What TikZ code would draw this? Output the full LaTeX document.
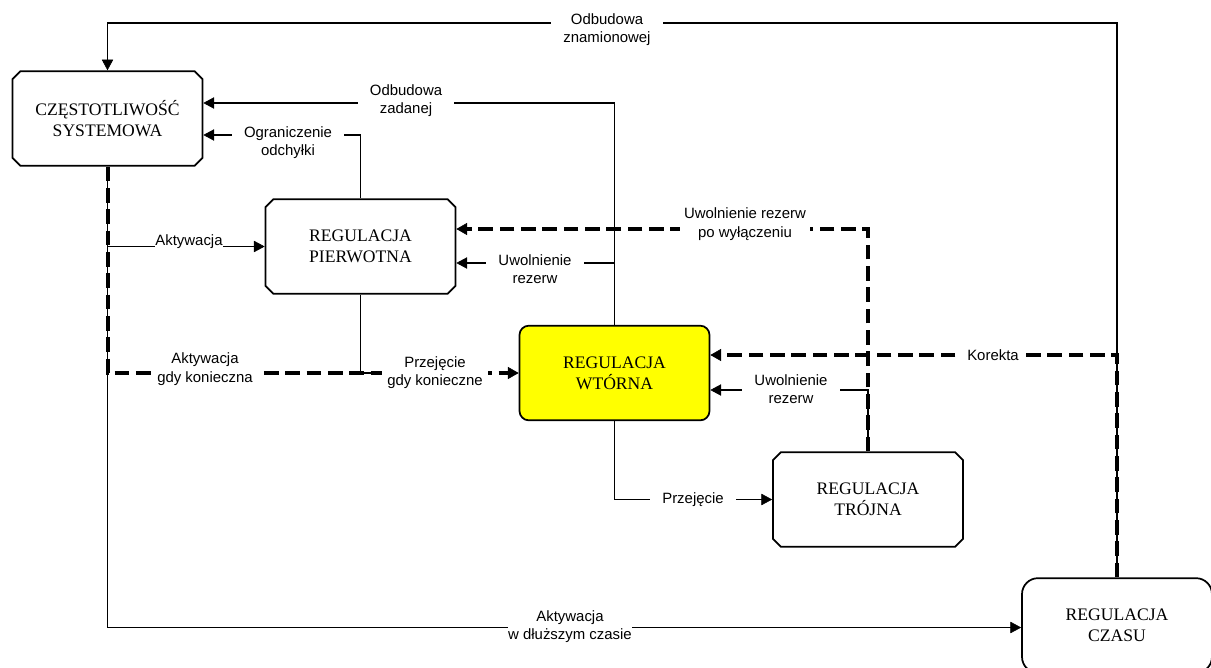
\documentclass[tikz,border=0pt]{standalone}
\usepackage{fontspec}
\setmainfont{Liberation Serif}
\setsansfont{Liberation Sans}
\usepackage{xcolor}
\usetikzlibrary{arrows.meta}
\usetikzlibrary{calc}
\usetikzlibrary{shapes.misc}
\definecolor{wtoryellow}{RGB}{255,255,0}
\tikzset{
	block/.style={
			draw,
			line width=1.3pt,
			minimum width=142.5pt,
			minimum height=71pt,
			align=center,
			font=\fontsize{13.2}{16}\selectfont
		},
	blockc/.style={block, chamfered rectangle,
			chamfered rectangle xsep=3pt, chamfered rectangle ysep=3pt},
	blockr/.style={block, rounded corners=7pt},
	lbl/.style={fill=white, align=center, inner xsep=9pt, inner ysep=0.5pt,
			font=\sffamily\fontsize{11.2}{13.8}\selectfont},
	line/.style={line width=0.8pt},
	flow/.style={line, -{Triangle[length=8pt,width=8.5pt,line width=0.4pt]}},
	dflow/.style={line width=3pt, dash pattern=on 11pt off 5pt,
			-{Triangle[length=8pt,width=9pt,line width=0.4pt]}}
}

\begin{document}
\begin{tikzpicture}[x=0.75pt,y=-0.75pt]
		\useasboundingbox (0,0) rectangle (1211,668);
		\clip (0,0) rectangle (1211,668);

		% Blocks
		\node[blockc] (cz) at (107.5,118.5) {CZĘSTOTLIWOŚĆ\\SYSTEMOWA};
		\node[blockc] (pier) at (360.5,246.5) {REGULACJA\\PIERWOTNA};
		\node[blockr,
			fill=wtoryellow
		] (wtor) at (614.5,373) {REGULACJA\\WTÓRNA};
		\node[blockc] (troj) at (868,499.5) {REGULACJA\\TRÓJNA};
		\node[blockr,
			rounded corners=12pt
		] (czas) at (1117,625.5) {REGULACJA\\CZASU};

		% Helper points
		\coordinate (top) at (0,23);
		\coordinate (pe) at ($(pier.east)+(0,16.5)$);

		% Solid connectors
		\draw[flow] (czas.north) -- (czas.north |- top) -- (cz.north |- top) -- (cz.north);
		\draw[flow] (wtor.north) |- ($(cz.east)+(0,-15.5)$);
		\draw[flow] (pier.north) |- ($(cz.east)+(0,16.5)$);
		\draw[flow] (cz.south |- pier.west) -- (pier.west);
		\draw[flow] (cz.south) |- ($(czas.west)+(0,2)$);
		\draw[line] (pier.south) |- ($(pier.south |- wtor.west)+(23,0)$);
		\draw[flow] (wtor.north |- pe) -- (pe);
		\draw[flow] (troj.north) |- ($(wtor.east)+(0,17)$);
		\draw[flow] (wtor.south) |- (troj.west);

		% Dashed connectors
		\draw[dflow] (cz.south) |- (wtor.west);
		\draw[dflow] (troj.north) |- ($(pier.east)+(0,-17.5)$);
		\draw[dflow] (czas.north) |- ($(wtor.east)+(0,-18)$);

		% Labels
		\node[lbl] (lznam) at (607,29.5) {Odbudowa\\znamionowej};
		\node[lbl] (lzad) at (406,100.5) {Odbudowa\\zadanej};
		\node[lbl] (logr) at (288,142.5) {Ograniczenie\\odchyłki};
		\node[lbl, inner xsep=0pt] (lakt) at (189,242) {Aktywacja};
		\node[lbl, inner xsep=4pt] (laktk) at (205,369) {Aktywacja\\gdy konieczna};
		\node[lbl, inner xsep=4pt] (lprzk) at (435,372.5) {Przejęcie\\gdy konieczne};
		\node[lbl] (luwp) at (535,269) {Uwolnienie\\rezerw};
		\node[lbl, inner xsep=3pt] (luww) at (745,224) {Uwolnienie rezerw\\po wyłączeniu};
		\node[lbl, inner xsep=5pt] (lkor) at (993,355) {Korekta};
		\node[lbl] (luwt) at (791,389) {Uwolnienie\\rezerw};
		\node[lbl] (lprz) at (693,499.5) {Przejęcie};
		\node[lbl, inner xsep=0pt] (lakcz) at (570,626.5) {Aktywacja\\w dłuższym czasie};
	\end{tikzpicture}
\end{document}
